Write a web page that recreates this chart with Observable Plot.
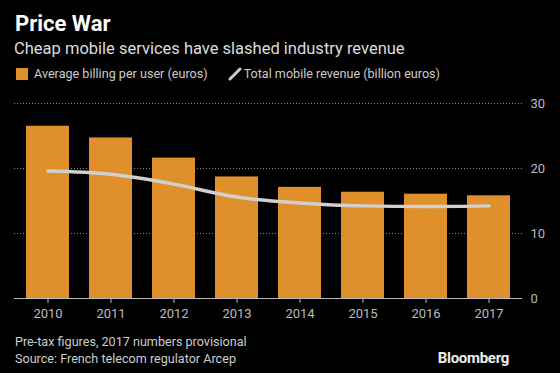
<!DOCTYPE html>
<html><head><meta charset="utf-8">
<script src="https://cdn.jsdelivr.net/npm/d3@7"></script>
<script src="https://cdn.jsdelivr.net/npm/@observablehq/plot@0.6"></script>
<style>
html,body{margin:0;padding:0;background:#000;}
body{width:560px;height:373px;overflow:hidden;position:relative;font-family:Roboto,"Liberation Sans",sans-serif;color:#fff;}
#title{position:absolute;left:15px;top:11px;font-size:22px;font-weight:700;color:#fff;}
#subtitle{position:absolute;left:14px;top:39px;font-size:16.5px;color:#ddd;}
#legend{position:absolute;left:16px;top:66px;font-size:12.6px;color:#ccc;display:flex;align-items:center;}
.sw{display:inline-block;width:12px;height:12px;background:#e0902a;margin-right:6px;}
.ln{display:inline-block;width:14px;height:14px;margin-left:20px;margin-right:2px;}
#chart{position:absolute;left:0;top:85px;}
#note{position:absolute;left:15px;top:333px;font-size:12.6px;line-height:17px;color:#ccc;}
#logo{position:absolute;right:51px;top:349px;font-size:15px;font-weight:700;color:#eee;letter-spacing:-0.3px;}
</style>
</head><body>
<div id="title">Price War</div>
<div id="subtitle">Cheap mobile services have slashed industry revenue</div>
<div id="legend"><span class="sw"></span><span>Average billing per user (euros)</span><svg class="ln" viewBox="0 0 14 14"><line x1="2" y1="12" x2="12" y2="2" stroke="#ccc" stroke-width="3" stroke-linecap="round"/></svg><span>Total mobile revenue (billion euros)</span></div>
<div id="chart"></div>
<div id="note">Pre-tax figures, 2017 numbers provisional<br>Source: French telecom regulator Arcep</div>
<div id="logo">Bloomberg</div>
<script>
const years = ["2010","2011","2012","2013","2014","2015","2016","2017"];
const arpu = [26.5, 24.7, 21.6, 18.7, 17.1, 16.35, 16.05, 15.8];
const revenue = [19.6, 19.1, 17.6, 15.6, 14.7, 14.25, 14.15, 14.25];
const yTicks = [0, 10, 20, 30];

const data = years.map((y, i) => ({year: y, arpu: arpu[i], rev: revenue[i]}));

const plot = Plot.plot({
  width: 560,
  height: 243,
  marginTop: 18,
  marginBottom: 30,
  marginLeft: 14,
  marginRight: 38,
  style: {background: "transparent", color: "#bbb", fontFamily: "Roboto, sans-serif", fontSize: "13px"},
  x: {domain: years, paddingInner: 0.32, paddingOuter: 0.165, label: null},
  y: {domain: [0, 30], label: null},
  marks: [
    Plot.ruleY(yTicks.filter(d => d > 0), {stroke: "#888", strokeDasharray: "1,2", strokeWidth: 1}),
    Plot.barY(data, {x: "year", y: "arpu", fill: "#e0902a"}),
    Plot.line(data, {x: "year", y: "rev", stroke: "#d0d0d0", strokeWidth: 3.5, curve: "monotone-x"}),
    Plot.ruleY([0], {stroke: "#bbb", strokeWidth: 1}),
    Plot.axisY({anchor: "right", ticks: yTicks, tickSize: 0, tickPadding: 8, fill: "#bbb", label: null}),
    Plot.axisX({tickSize: 5, tickPadding: 5, stroke: "#bbb", fill: "#bbb", label: null})
  ]
});
document.getElementById("chart").appendChild(plot);
</script>
</body></html>
